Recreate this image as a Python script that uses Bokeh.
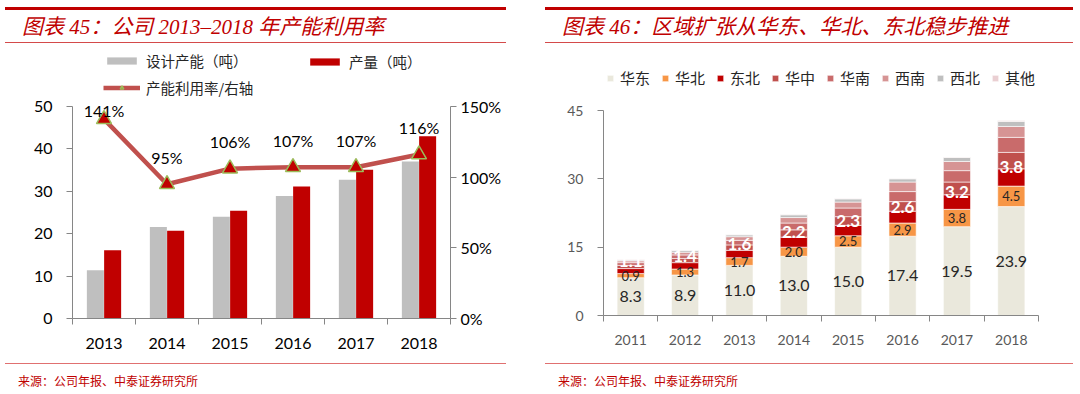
import numpy as np
from bokeh.plotting import figure
from bokeh.models import (ColumnDataSource, Range1d, LinearAxis, FixedTicker,
                          Legend, LegendItem, Div, PrintfTickFormatter, Spacer)
from bokeh.layouts import row, column
from bokeh.transform import dodge
from bokeh.embed import file_html
from bokeh.resources import INLINE
from bokeh.core.properties import value

# ---------------- data: left chart ----------------
years_left = ["2013", "2014", "2015", "2016", "2017", "2018"]
capacity = [11.4, 21.6, 24.0, 28.9, 32.7, 37.0]      # 设计产能（吨）
output = [16.1, 20.7, 25.4, 31.1, 35.1, 43.0]        # 产量（吨）
utilization = [141, 95, 106, 107, 107, 116]          # 产能利用率 %
left_ticks = [0, 10, 20, 30, 40, 50]
right_ticks = [0, 50, 100, 150]

# ---------------- data: right chart ----------------
years_right = ["2011", "2012", "2013", "2014", "2015", "2016", "2017", "2018"]
regions = ["华东", "华北", "东北", "华中", "华南", "西南", "西北", "其他"]
huadong = [8.3, 8.9, 11.0, 13.0, 15.0, 17.4, 19.5, 23.9]
huabei = [0.9, 1.3, 1.7, 2.0, 2.5, 2.9, 3.8, 4.5]
dongbei = [1.1, 1.4, 1.6, 2.2, 2.3, 2.6, 3.2, 3.8]
huazhong = [0.7, 0.9, 1.2, 1.6, 1.9, 2.1, 2.8, 3.6]
huanan = [0.6, 0.8, 1.0, 1.5, 1.9, 2.2, 2.5, 3.3]
xinan = [0.4, 0.6, 0.8, 1.2, 1.3, 2.1, 2.0, 2.4]
xibei = [0.2, 0.4, 0.4, 0.6, 0.7, 0.7, 0.9, 1.1]
qita = [0.1, 0.1, 0.1, 0.1, 0.1, 0.1, 0.1, 0.2]
region_ticks = [0, 15, 30, 45]

title_left = "图表 45：公司 2013–2018 年产能利用率"
title_right = "图表 46：区域扩张从华东、华北、东北稳步推进"
source_text = "来源：公司年报、中泰证券研究所"

NUM_FONT = "Lato"
CJK_FONT = "Noto Sans CJK SC"
RED = "#C00000"


def header(text, width):
    html = (
        f'<div style="position:relative;width:{width}px;height:36px;margin:0;padding:0;">'
        f'<div style="position:absolute;left:0;top:0;width:{width}px;height:3px;background:{RED};"></div>'
        f'<div style="position:absolute;left:17px;top:8px;white-space:nowrap;line-height:24px;'
        f"font-family:'Liberation Serif','Noto Sans CJK SC';font-style:italic;font-size:21px;color:{RED};\">{text}</div>"
        f'<div style="position:absolute;left:0;top:35px;width:{width}px;height:1px;background:#D44A4A;"></div>'
        '</div>'
    )
    return Div(text=html, width=width, height=36, styles={"margin": "0", "padding": "0"})


def footer(text, width):
    html = (
        f'<div style="position:relative;width:{width}px;height:30px;margin:0;padding:0;">'
        f'<div style="position:absolute;left:0;top:8px;width:{width}px;height:1px;background:#E07070;"></div>'
        f'<div style="position:absolute;left:13px;top:18px;white-space:nowrap;line-height:16px;'
        f"font-family:'Noto Sans CJK SC';font-size:12px;color:{RED};\">{text}</div>"
        '</div>'
    )
    return Div(text=html, width=width, height=30, styles={"margin": "0", "padding": "0"})


def style_num_axis(ax, size, color, standoff):
    ax.minor_tick_line_color = None
    ax.axis_line_color = "#868686"
    ax.major_tick_line_color = "#868686"
    ax.major_tick_out = 6
    ax.major_tick_in = 0
    ax.major_label_standoff = standoff
    ax.major_label_text_font = NUM_FONT
    ax.major_label_text_font_size = size
    ax.major_label_text_color = color


def style_cat_axis(ax, centers, labels, size, color):
    ax.ticker = FixedTicker(ticks=list(centers), minor_ticks=list(range(len(labels) + 1)))
    ax.major_label_overrides = {float(x): y for x, y in zip(centers, labels)}
    ax.major_tick_out = 0
    ax.major_tick_in = 0
    ax.minor_tick_out = 6
    ax.minor_tick_in = 0
    ax.minor_tick_line_color = "#868686"
    ax.axis_line_color = "#868686"
    ax.major_label_standoff = 13
    ax.major_label_text_font = NUM_FONT
    ax.major_label_text_font_size = size
    ax.major_label_text_color = color


def legend(items, loc, spacing, orientation="vertical", glyph_w=37, glyph_h=9, font="15px"):
    return Legend(items=items, location=loc, orientation=orientation,
                  glyph_width=glyph_w, glyph_height=glyph_h, label_standoff=6, spacing=spacing,
                  label_height=20, label_text_font=CJK_FONT, label_text_font_size=font,
                  label_text_color="#262626", padding=0, margin=0,
                  border_line_color=None, background_fill_alpha=0)


# ================= left chart =================
xl = np.arange(len(years_left)) + 0.5
util = np.array(utilization, dtype=float)
src_l = ColumnDataSource(dict(
    x=xl, capacity=capacity, output=output, util=util,
    util_label=[f"{v}%" for v in utilization],
    util_label_y=np.minimum(util + 19, 147),
))

p1 = figure(width=501, height=312, x_range=Range1d(0, len(years_left)), y_range=Range1d(0, 63.9),
            output_backend="svg", toolbar_location=None,
            min_border_left=67, min_border_right=56, min_border_top=4, min_border_bottom=37)
p1.extra_y_ranges = {"pct": Range1d(0, 63.9 * 3)}
p1.xgrid.visible = False
p1.ygrid.visible = False
p1.outline_line_color = None

r_cap = p1.vbar(x=dodge("x", -0.137, range=p1.x_range), top="capacity", width=0.27,
                source=src_l, fill_color="#BFBFBF", line_color=None)
r_out = p1.vbar(x=dodge("x", 0.137, range=p1.x_range), top="output", width=0.27,
                source=src_l, fill_color=RED, line_color=None)
r_line = p1.line(x="x", y="util", source=src_l, y_range_name="pct",
                 line_color="#C0504D", line_width=4.5)
r_mark = p1.scatter(x="x", y="util", source=src_l, y_range_name="pct", marker="triangle",
                    size=15, fill_color=RED, line_color="#9BBB59", line_width=1.5)
p1.text(x="x", y="util_label_y", text="util_label", source=src_l, y_range_name="pct",
        text_align="center", text_baseline="middle", text_font=value(NUM_FONT),
        text_font_size="16px", text_color="#000000")

style_cat_axis(p1.xaxis[0], xl, years_left, "16px", "#000000")

ya = p1.yaxis[0]
ya.ticker = FixedTicker(ticks=left_ticks)
ya.bounds = (0, 50)
style_num_axis(ya, "16px", "#000000", 14)

ya2 = LinearAxis(y_range_name="pct", ticker=FixedTicker(ticks=right_ticks),
                 formatter=PrintfTickFormatter(format="%d%%"), bounds=(0, 150))
style_num_axis(ya2, "16px", "#000000", 4)
p1.add_layout(ya2, "right")

leg1a = legend([LegendItem(label="设计产能（吨）", renderers=[r_cap]),
                LegendItem(label="产能利用率/右轴", renderers=[r_line, r_mark])], (31, 220), 6,
               font="14.5px")
leg1b = legend([LegendItem(label="产量（吨）", renderers=[r_out])], (234, 246), 6, font="14.5px")
p1.add_layout(leg1a)
p1.add_layout(leg1b)

# ================= right chart =================
xr = np.arange(len(years_right)) + 0.5
hd = np.array(huadong)
hb = np.array(huabei)
db = np.array(dongbei)
src_r = ColumnDataSource({
    "x": xr,
    "华东": huadong, "华北": huabei, "东北": dongbei, "华中": huazhong,
    "华南": huanan, "西南": xinan, "西北": xibei, "其他": qita,
    "hd_y": hd / 2, "hb_y": hd + hb / 2, "db_y": hd + hb + db / 2,
    "hd_t": [f"{v:.1f}" for v in huadong],
    "hb_t": [f"{v:.1f}" for v in huabei],
    "db_t": [f"{v:.1f}" for v in dongbei],
})
colors = ["#EAE8DC", "#F79646", "#C00000", "#C0504D", "#C96B6B", "#D69494", "#BFBFBF", "#EACFD2"]

p2 = figure(width=528, height=312, x_range=Range1d(0, len(years_right)), y_range=Range1d(0, 58.83),
            output_backend="svg", toolbar_location=None,
            min_border_left=58, min_border_right=35, min_border_top=4, min_border_bottom=40)
p2.xgrid.visible = False
p2.ygrid.visible = False
p2.outline_line_color = None

stack_r = p2.vbar_stack(regions, x="x", width=0.5, color=colors, source=src_r,
                        line_color="white", line_width=0.6)
p2.text(x="x", y="hd_y", text="hd_t", source=src_r, text_align="center", text_baseline="middle",
        text_font=value(NUM_FONT), text_font_size="16px", text_color="#262626")
p2.text(x="x", y="hb_y", text="hb_t", source=src_r, text_align="center", text_baseline="middle",
        text_font=value(NUM_FONT), text_font_size="13px", text_color="#262626")
p2.text(x="x", y="db_y", text="db_t", source=src_r, text_align="center", text_baseline="middle",
        y_offset=-10, text_font=value(NUM_FONT), text_font_size="17px", text_color="#FFFFFF",
        text_font_style="bold")

style_cat_axis(p2.xaxis[0], xr, years_right, "14px", "#595959")
ya3 = p2.yaxis[0]
ya3.ticker = FixedTicker(ticks=region_ticks)
ya3.bounds = (0, 45)
style_num_axis(ya3, "14px", "#595959", 14)

leg2 = legend([LegendItem(label=name, renderers=[rr]) for name, rr in zip(regions, stack_r)],
              (3, 227), 11, orientation="horizontal", glyph_w=8, glyph_h=8)
p2.add_layout(leg2)

left_col = column(header(title_left, 501), p1, footer(source_text, 501))
right_col = column(header(title_right, 528), p2, footer(source_text, 528))
layout = column(Spacer(width=1080, height=7),
                row(Spacer(width=5, height=378), left_col, Spacer(width=39, height=378), right_col))

open("out.html", "w").write(file_html(layout, INLINE))
